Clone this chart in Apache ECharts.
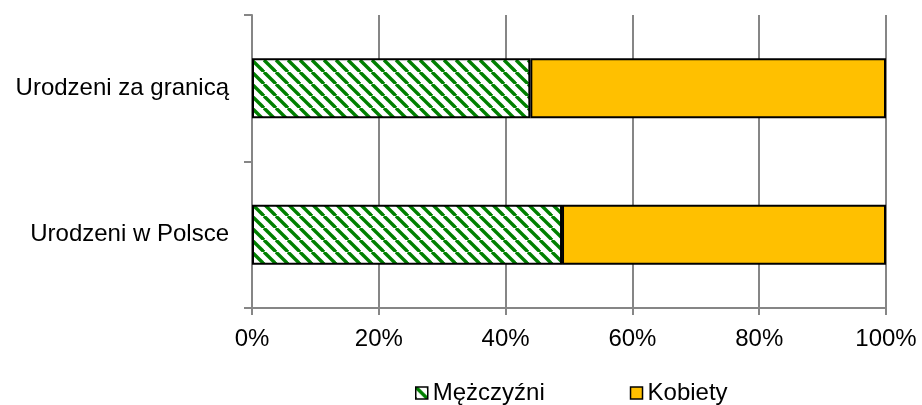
<!DOCTYPE html>
<html>
<head>
<meta charset="utf-8">
<script src="https://cdn.jsdelivr.net/npm/echarts@6/dist/echarts.min.js"></script>
<style>
  html, body { margin: 0; padding: 0; background: #fff; }
  #chart { width: 922px; height: 405px; }
</style>
</head>
<body>
<div id="chart"></div>
<script>
const categories = ['Urodzeni w Polsce', 'Urodzeni za granicą']
const men = [48.9, 43.9]
const women = [51.1, 56.1]
const xTicks = [0, 20, 40, 60, 80, 100]

// diagonal green hatch for the men series
function hatch() {
  const p = 12
  const c = document.createElement('canvas')
  c.width = p
  c.height = p
  const ctx = c.getContext('2d')
  ctx.fillStyle = '#fff'
  ctx.fillRect(0, 0, p, p)
  ctx.strokeStyle = '#008000'
  ctx.lineWidth = 3.4
  for (const k of [-p, 0, p]) {
    ctx.beginPath()
    ctx.moveTo(k, 0)
    ctx.lineTo(k + p, p)
    ctx.stroke()
  }
  return c
}

const font = 'Liberation Sans, Arial, sans-serif'
const grey = '#868686'

const chart = echarts.init(document.getElementById('chart'))
chart.setOption({
  backgroundColor: '#fff',
  animation: false,
  textStyle: { fontFamily: font },
  grid: { left: 252, right: 36, top: 15, bottom: 97, containLabel: false },
  legend: {
    left: 415,
    top: 381,
    padding: 0,
    itemWidth: 12,
    itemHeight: 12,
    itemGap: 85,
    icon: 'rect',
    textStyle: { fontSize: 24, color: '#000', fontFamily: font },
    itemStyle: { borderColor: '#000', borderWidth: 1.5 },
    data: ['Mężczyźni', 'Kobiety']
  },
  xAxis: {
    type: 'value',
    min: xTicks[0],
    max: xTicks[xTicks.length - 1],
    interval: 20,
    axisLine: { show: true, lineStyle: { color: grey, width: 2 } },
    axisTick: { show: true, length: 7, lineStyle: { color: grey, width: 2 } },
    splitLine: { show: true, lineStyle: { color: grey, width: 2 } },
    axisLabel: { formatter: '{value}%', fontSize: 24, color: '#000', margin: 19, fontFamily: font }
  },
  yAxis: {
    type: 'category',
    data: categories,
    axisLine: { show: true, lineStyle: { color: grey, width: 2 } },
    axisTick: { show: true, length: 8, lineStyle: { color: grey, width: 2 } },
    axisLabel: { fontSize: 24, color: '#000', margin: 23, fontFamily: font }
  },
  series: [
    {
      name: 'Mężczyźni',
      type: 'bar',
      stack: 'all',
      barWidth: '41%',
      itemStyle: { color: { image: hatch(), repeat: 'repeat' }, borderColor: '#000', borderWidth: 2 },
      data: men
    },
    {
      name: 'Kobiety',
      type: 'bar',
      stack: 'all',
      barWidth: '41%',
      itemStyle: { color: '#ffc000', borderColor: '#000', borderWidth: 2 },
      data: women
    }
  ]
})
</script>
</body>
</html>
